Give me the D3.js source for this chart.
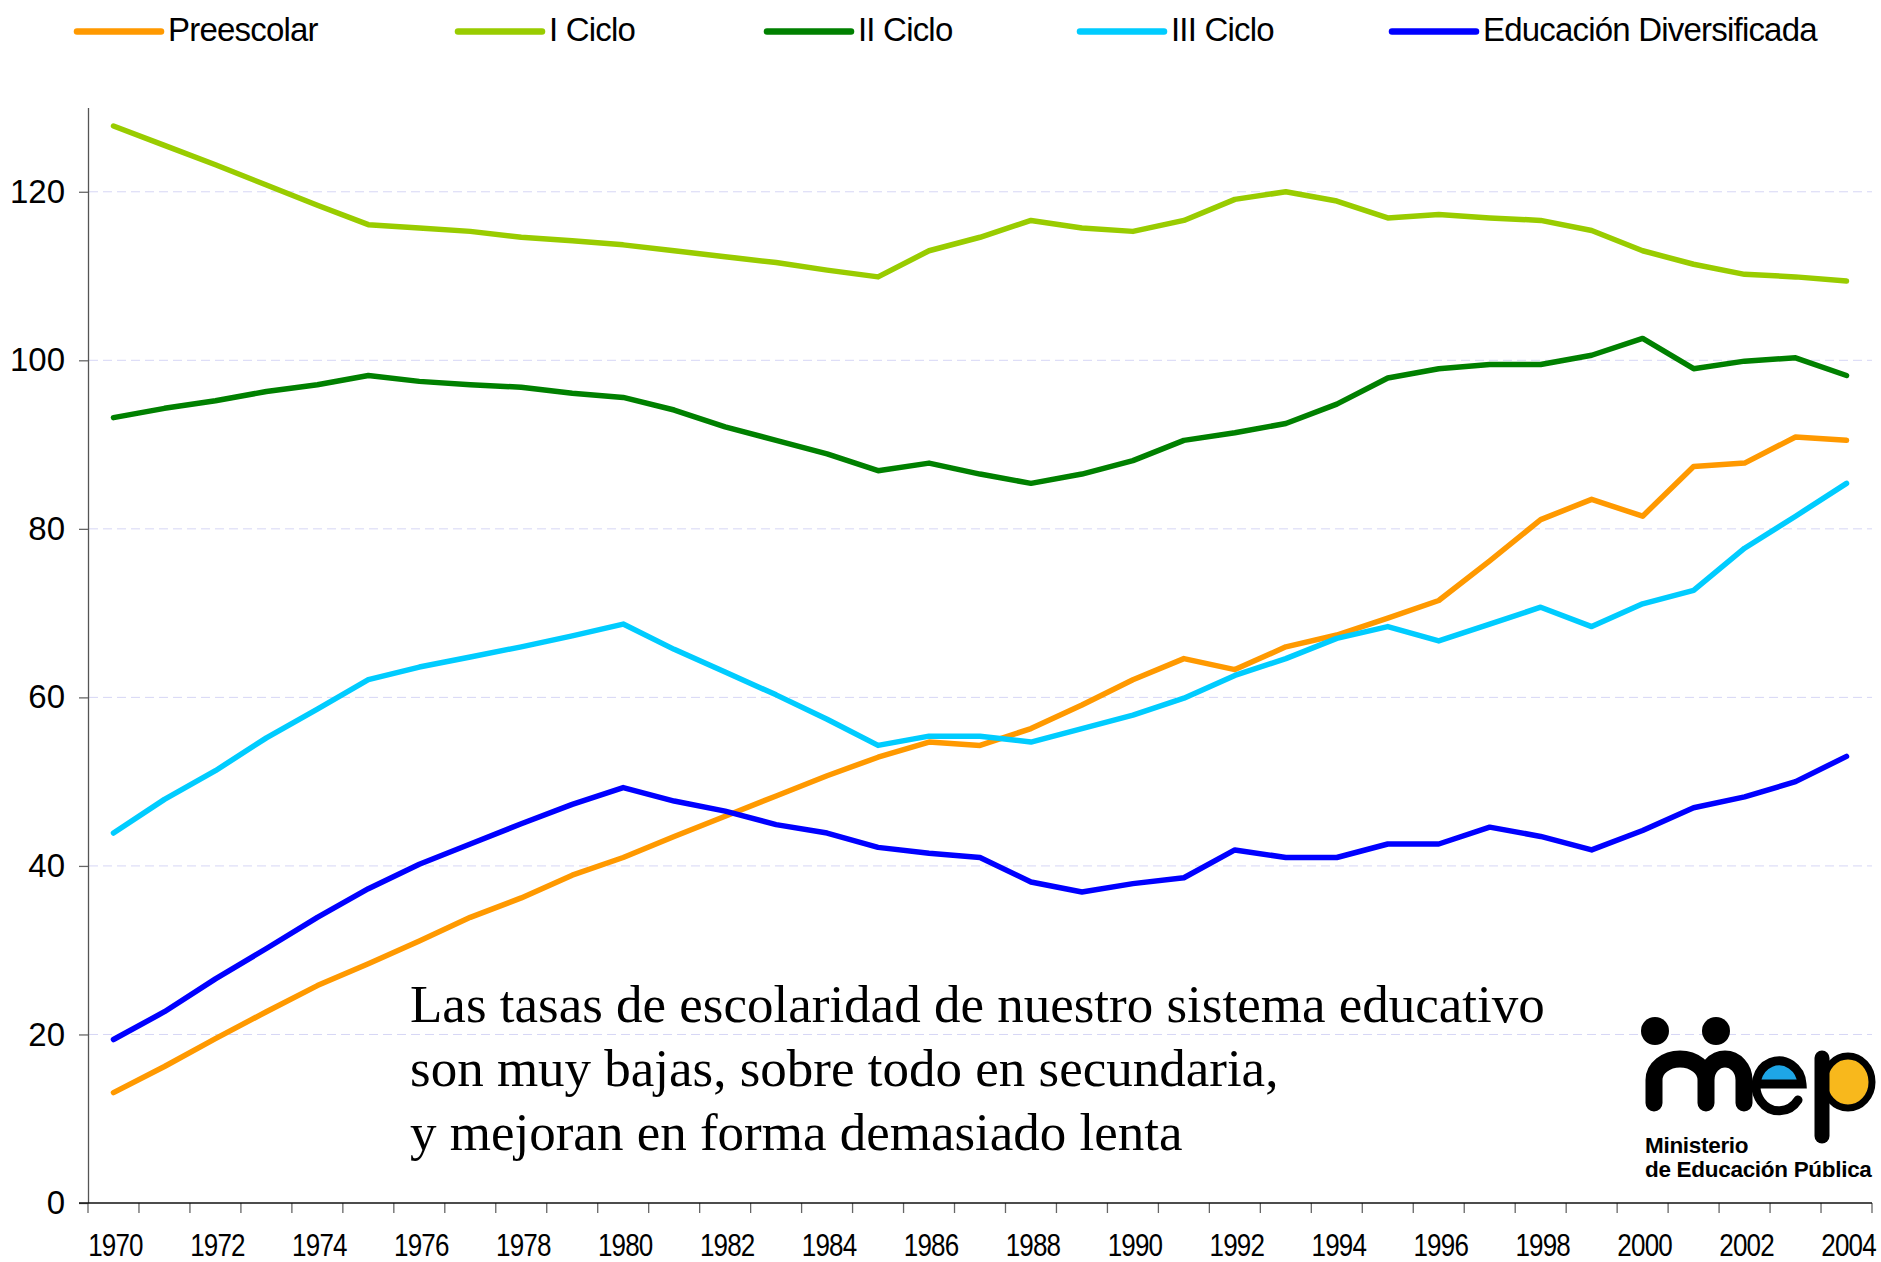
<!DOCTYPE html>
<html>
<head>
<meta charset="utf-8">
<script src="https://cdn.jsdelivr.net/npm/d3@7"></script>
<style>
  body { margin: 0; background: #fff; }
  svg { display: block; }
</style>
</head>
<body>
<svg></svg>
<script>
// data
const years = [1970, 1971, 1972, 1973, 1974, 1975, 1976, 1977, 1978, 1979,
               1980, 1981, 1982, 1983, 1984, 1985, 1986, 1987, 1988, 1989,
               1990, 1991, 1992, 1993, 1994, 1995, 1996, 1997, 1998, 1999,
               2000, 2001, 2002, 2003, 2004];

const preescolar = [13.1, 16.2, 19.5, 22.7, 25.8, 28.4, 31.1, 33.9, 36.2, 38.9,
                    41.0, 43.5, 45.9, 48.3, 50.7, 52.9, 54.7, 54.3, 56.3, 59.1,
                    62.1, 64.6, 63.3, 66.0, 67.4, 69.4, 71.5, 76.2, 81.1, 83.5,
                    81.5, 87.4, 87.8, 90.9, 90.5];

const iCiclo = [127.8, 125.5, 123.2, 120.8, 118.4, 116.1, 115.7, 115.3, 114.6, 114.2,
                113.7, 113.0, 112.3, 111.6, 110.7, 109.9, 113.0, 114.6, 116.6, 115.7,
                115.3, 116.6, 119.1, 120.0, 118.9, 116.9, 117.3, 116.9, 116.6, 115.4,
                113.0, 111.4, 110.2, 109.9, 109.4];

const iiCiclo = [93.2, 94.3, 95.2, 96.3, 97.1, 98.2, 97.5, 97.1, 96.8, 96.1,
                 95.6, 94.1, 92.1, 90.5, 88.9, 86.9, 87.8, 86.5, 85.4, 86.5,
                 88.1, 90.5, 91.4, 92.5, 94.8, 97.9, 99.0, 99.5, 99.5, 100.6,
                 102.6, 99.0, 99.9, 100.3, 98.2];

const iiiCiclo = [43.9, 47.9, 51.3, 55.2, 58.6, 62.1, 63.6, 64.8, 66.0, 67.3,
                  68.7, 65.7, 63.0, 60.3, 57.4, 54.3, 55.4, 55.4, 54.7, 56.3,
                  57.9, 59.9, 62.6, 64.6, 67.0, 68.4, 66.7, 68.7, 70.7, 68.4,
                  71.1, 72.7, 77.7, 81.5, 85.4];

const diversificada = [19.4, 22.7, 26.6, 30.2, 33.9, 37.3, 40.2, 42.6, 45.0, 47.3,
                       49.3, 47.7, 46.5, 44.9, 43.9, 42.2, 41.5, 41.0, 38.1, 36.9,
                       37.9, 38.6, 41.9, 41.0, 41.0, 42.6, 42.6, 44.6, 43.5, 41.9,
                       44.2, 46.9, 48.2, 50.0, 53.0];

const seriesNames = ["Preescolar", "I Ciclo", "II Ciclo", "III Ciclo", "Educación Diversificada"];
const seriesColors = ["#ff9900", "#99cc00", "#008000", "#00ccff", "#0000ff"];
const yTicks = [0, 20, 40, 60, 80, 100, 120];
const xLabelYears = [1970, 1972, 1974, 1976, 1978, 1980, 1982, 1984, 1986, 1988, 1990,
                     1992, 1994, 1996, 1998, 2000, 2002, 2004];

const note = ["Las tasas de escolaridad de nuestro sistema educativo",
              "son muy bajas, sobre todo en secundaria,",
              "y mejoran en forma demasiado lenta"];
const logoLines = ["Ministerio", "de Educación Pública"];

let w = 1881;
let h = 1262;
let plotL = 88;
let plotR = 1872;
let plotB = 1203;
let plotT = 107.5;

let svg = d3.select('svg').attr('width', w).attr('height', h);

let xSc = d3.scaleBand().domain(years).range([plotL, plotR]).padding(0);
let ySc = d3.scaleLinear().domain([0, 130]).range([plotB, plotT]);

// grid
svg.append('g')
   .selectAll('line')
   .data(yTicks.filter(d => d > 0))
   .enter()
   .append('line')
   .attr('x1', plotL + 1)
   .attr('x2', plotR)
   .attr('y1', d => ySc(d))
   .attr('y2', d => ySc(d))
   .attr('stroke', '#d6d6f5')
   .attr('stroke-width', 1)
   .attr('stroke-dasharray', '9,5');

// y axis
let yAxis = d3.axisLeft(ySc).tickValues(yTicks).tickSize(9).tickSizeOuter(0).tickPadding(14);
let gy = svg.append('g')
   .attr('transform', 'translate(' + plotL + ',0)')
   .call(yAxis);
gy.select('.domain').attr('stroke', '#555').attr('stroke-width', 1.3);
gy.selectAll('.tick line').attr('stroke', '#666').attr('stroke-width', 1.3);
gy.selectAll('.tick text')
  .attr('font-family', 'Liberation Sans, Arial, sans-serif')
  .attr('font-size', 33)
  .attr('fill', '#000');

// x axis: labels at band centres, tick marks on band edges
let xAxis = d3.axisBottom(xSc).tickValues(xLabelYears).tickSize(0).tickPadding(0);
let gx = svg.append('g')
   .attr('transform', 'translate(0,' + plotB + ')')
   .call(xAxis);
gx.select('.domain').remove();
gx.selectAll('.tick text')
  .attr('y', 0)
  .attr('dy', 0)
  .attr('transform', 'translate(2,53) scale(0.84,1)')
  .attr('font-family', 'Liberation Sans, Arial, sans-serif')
  .attr('font-size', 31)
  .attr('letter-spacing', -1)
  .attr('fill', '#000');

let edges = years.map(y => xSc(y)).concat([xSc(years[years.length - 1]) + xSc.bandwidth()]);
svg.append('g')
   .selectAll('line')
   .data(edges)
   .enter()
   .append('line')
   .attr('x1', d => d).attr('x2', d => d)
   .attr('y1', plotB).attr('y2', plotB + 10)
   .attr('stroke', '#666')
   .attr('stroke-width', 1.3);

svg.append('line')
   .attr('x1', plotL - 9).attr('x2', plotR)
   .attr('y1', plotB).attr('y2', plotB)
   .attr('stroke', '#111')
   .attr('stroke-width', 1.5);

// lines
let allSeries = [preescolar, iCiclo, iiCiclo, iiiCiclo, diversificada];
let line = d3.line()
             .x((d, i) => xSc(years[i]) + xSc.bandwidth() / 2)
             .y(d => ySc(d));

svg.append('g')
   .selectAll('path')
   .data(allSeries)
   .enter()
   .append('path')
   .attr('d', d => line(d))
   .attr('fill', 'none')
   .attr('stroke', (d, i) => seriesColors[i])
   .attr('stroke-width', 5.5)
   .attr('stroke-linejoin', 'round')
   .attr('stroke-linecap', 'round');

// legend
let legendX = [77, 458, 767, 1080, 1392];
let lg = svg.append('g')
   .selectAll('g')
   .data(seriesNames)
   .enter()
   .append('g')
   .attr('transform', (d, i) => 'translate(' + legendX[i] + ',0)');
lg.append('line')
  .attr('x1', 0).attr('x2', 84)
  .attr('y1', 31.5).attr('y2', 31.5)
  .attr('stroke', (d, i) => seriesColors[i])
  .attr('stroke-width', 6.5)
  .attr('stroke-linecap', 'round');
lg.append('text')
  .attr('x', 91)
  .attr('y', 41)
  .attr('font-family', 'Liberation Sans, Arial, sans-serif')
  .attr('font-size', 33)
  .attr('letter-spacing', -0.8)
  .text(d => d);

// annotation
svg.append('text')
   .attr('font-family', 'Liberation Serif, Times New Roman, serif')
   .attr('font-size', 53)
   .selectAll('tspan')
   .data(note)
   .enter()
   .append('tspan')
   .attr('x', 410)
   .attr('y', (d, i) => 1022 + i * 64)
   .text(d => d);

// MEP logo, drawn from simple shapes
let logo = svg.append('g');
// colour fills first, black strokes on top
logo.append('path')
    .attr('d', 'M1761,1080 A20,20 0 0 1 1801,1080 Z')
    .attr('fill', '#1ea6e6');
logo.append('ellipse').attr('cx', 1848).attr('cy', 1082).attr('rx', 21).attr('ry', 23).attr('fill', '#f8b81c');

logo.append('circle').attr('cx', 1655).attr('cy', 1031).attr('r', 14).attr('fill', '#000');
logo.append('circle').attr('cx', 1716).attr('cy', 1031).attr('r', 14).attr('fill', '#000');
// m
logo.append('path')
    .attr('d', 'M1654,1103 L1654,1080 A26,21 0 0 1 1706,1080 L1706,1103 M1706,1080 A19,21 0 0 1 1744,1080 L1744,1103')
    .attr('fill', 'none').attr('stroke', '#000').attr('stroke-width', 17)
    .attr('stroke-linecap', 'round');
// e
logo.append('path')
    .attr('d', 'M1760,1084 L1802,1084 A23,25 0 1 0 1798,1100')
    .attr('fill', 'none').attr('stroke', '#000').attr('stroke-width', 9)
    .attr('stroke-linecap', 'round');
// p
logo.append('ellipse').attr('cx', 1848).attr('cy', 1082).attr('rx', 24).attr('ry', 26)
    .attr('fill', 'none').attr('stroke', '#000').attr('stroke-width', 7);
logo.append('line')
    .attr('x1', 1822).attr('x2', 1822).attr('y1', 1058).attr('y2', 1136)
    .attr('stroke', '#000').attr('stroke-width', 15).attr('stroke-linecap', 'round');

logo.append('text')
    .attr('font-family', 'Liberation Sans, Arial, sans-serif')
    .attr('font-weight', 'bold')
    .attr('font-size', 22.5)
    .attr('letter-spacing', -0.3)
    .selectAll('tspan')
    .data(logoLines)
    .enter()
    .append('tspan')
    .attr('x', 1645)
    .attr('y', (d, i) => 1153 + i * 24)
    .text(d => d);
</script>
</body>
</html>
